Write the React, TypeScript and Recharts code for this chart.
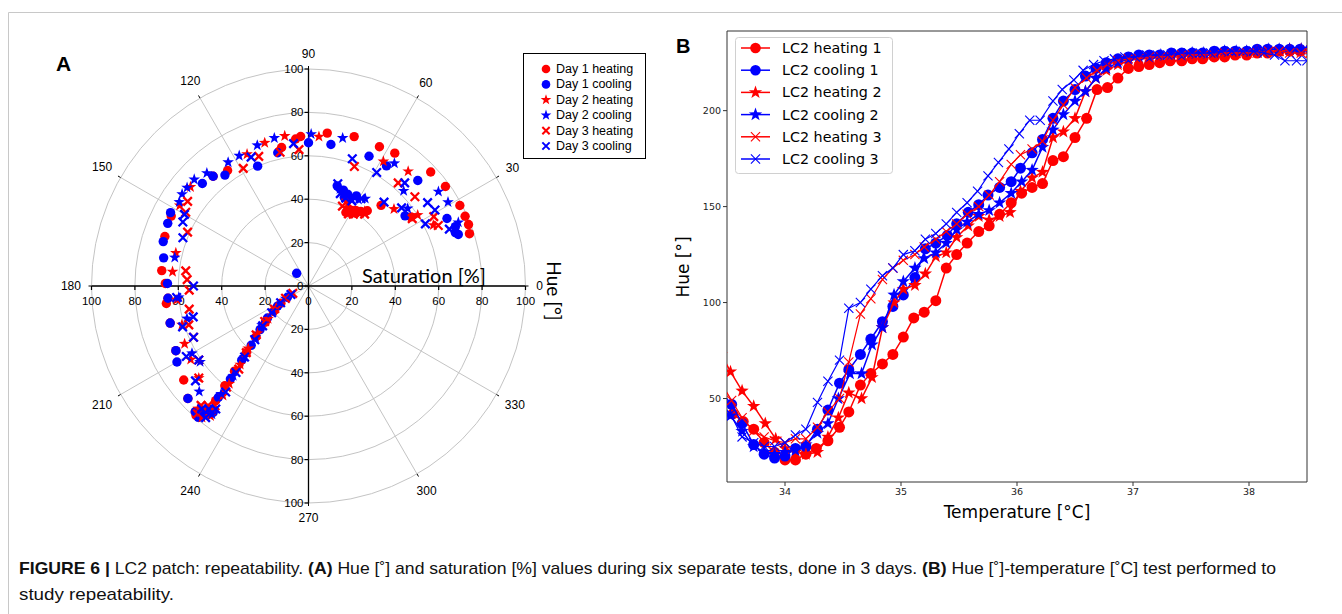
import React from 'react';
import {
  ScatterChart,
  Scatter,
  XAxis,
  YAxis,
  ReferenceLine,
  ReferenceDot,
  RadarChart,
  PolarGrid,
  PolarAngleAxis,
  PolarRadiusAxis,
} from 'recharts';

const RED = '#ff0000';
const BLUE = '#0000ff';

// ---- Panel A: [hue in degrees, saturation in %] ----
const day1Heating = [
  [61, 40], [58, 41], [55, 42], [63, 38], [60, 39], [52, 44], [57, 40], [48, 50], [34, 57],
  [18, 78], [21, 79], [24, 79], [28, 79], [36, 78], [43, 77], [57, 73], [63, 72], [73, 72],
  [83, 71], [93, 69], [95, 68], [101, 65], [125, 65], [131, 67], [153, 71], [161, 70],
  [174, 68], [179, 66], [185, 65], [187, 66], [195, 66], [206, 68], [217, 72], [223, 76],
  [228, 78], [229, 77], [230, 75], [231, 76], [232, 74], [229, 79], [231, 68], [230, 60],
  [229, 52], [227, 42], [224, 34], [220, 26], [216, 20], [212, 15],
];
const day1Cooling = [
  [133, 8], [74, 48], [70, 47], [67, 46], [62, 47], [68, 44], [36, 55], [20, 72], [19, 73],
  [22, 73], [26, 71], [44, 70], [57, 66], [65, 66], [81, 66], [90, 66], [103, 63], [113, 60],
  [127, 64], [131, 67], [136, 68], [152, 72], [156, 71], [163, 70], [169, 68], [179, 65],
  [185, 65], [195, 66], [206, 68], [210, 70], [223, 76], [228, 78], [230, 77], [231, 74],
  [232, 72], [233, 73], [230, 79], [231, 66], [230, 56], [228, 46], [226, 38], [222, 30],
  [218, 24], [213, 17], [208, 11],
];
const day2Heating = [
  [62, 38], [59, 40], [56, 41], [64, 40], [66, 43], [53, 43], [49, 70], [42, 53], [33, 60],
  [26, 64], [59, 67], [86, 69], [99, 70], [107, 69], [115, 67], [140, 71], [148, 70],
  [166, 63], [174, 63], [186, 61], [197, 61], [205, 63], [212, 64], [220, 66], [228, 76],
  [230, 74], [232, 72], [233, 75], [231, 78], [232, 64], [231, 58], [229, 48], [226, 40],
  [223, 32], [219, 24], [214, 18],
];
const day2Cooling = [
  [72, 47], [68, 46], [64, 45], [60, 46], [57, 48], [23, 75], [31, 75], [36, 74], [55, 69],
  [45, 62], [38, 58], [77, 70], [89, 70], [103, 70], [110, 69], [118, 68], [123, 68],
  [132, 70], [137, 72], [141, 72], [144, 72], [147, 71], [168, 63], [185, 60], [195, 58],
  [210, 62], [215, 61], [224, 70], [229, 76], [231, 73], [233, 74], [230, 77], [231, 64],
  [230, 54], [228, 44], [224, 34], [220, 28], [215, 20], [209, 12],
];
const day3Heating = [
  [64, 42], [61, 38], [58, 39], [55, 41], [52, 42], [67, 40], [69, 59], [49, 63], [40, 64],
  [29, 66], [33, 57], [25, 66], [94, 63], [102, 63], [111, 64], [119, 62], [145, 68],
  [149, 66], [156, 61], [173, 57], [177, 56], [182, 55], [191, 56], [198, 58], [204, 58],
  [214, 61], [220, 66], [228, 74], [230, 72], [232, 70], [229, 78], [231, 60], [230, 50],
  [227, 42], [223, 33], [219, 26], [214, 19], [208, 12], [205, 8],
];
const day3Cooling = [
  [71, 45], [67, 44], [63, 44], [59, 47], [74, 49], [71, 62], [59, 61], [47, 65], [35, 67],
  [31, 68], [48, 52], [40, 56], [28, 61], [22, 70], [114, 65], [96, 66], [150, 66],
  [153, 65], [159, 62], [180, 53], [185, 61], [195, 55], [198, 61], [204, 58], [210, 65],
  [214, 61], [220, 68], [229, 75], [231, 73], [233, 71], [232, 77], [232, 62], [230, 52],
  [228, 44], [225, 35], [221, 28], [216, 21], [211, 15], [206, 9],
];

const angleTicks = [0, 30, 60, 90, 120, 150, 180, 210, 240, 270, 300, 330];
const radiusTicks = [20, 40, 60, 80, 100];
const crossTicks = [-100, -80, -60, -40, -20, 0, 20, 40, 60, 80, 100];

// ---- Panel B: [temperature in °C, hue in °] ----
const heating1 = [
  [33.55, 42], [33.64, 38], [33.73, 34], [33.82, 27], [33.91, 22], [34.0, 18], [34.09, 18],
  [34.18, 21], [34.27, 24], [34.37, 28], [34.47, 35], [34.55, 43], [34.65, 57], [34.74, 63],
  [34.84, 68], [34.93, 73], [35.02, 82], [35.11, 92], [35.2, 95], [35.3, 101], [35.39, 118],
  [35.48, 125], [35.57, 131], [35.67, 137], [35.76, 140], [35.85, 146], [35.95, 152],
  [36.04, 157], [36.13, 160], [36.22, 162], [36.31, 174], [36.4, 176], [36.5, 186],
  [36.6, 196], [36.69, 211], [36.78, 212], [36.87, 217], [36.96, 222], [37.05, 223],
  [37.14, 224], [37.23, 225], [37.32, 226], [37.42, 226], [37.51, 227], [37.6, 227],
  [37.7, 228], [37.79, 228], [37.88, 229], [37.98, 229], [38.07, 230], [38.16, 230],
  [38.26, 231], [38.35, 231], [38.44, 231], [38.53, 232],
];
const cooling1 = [
  [33.45, 53], [33.54, 47], [33.63, 37], [33.73, 26], [33.82, 21], [33.91, 19], [34.0, 20],
  [34.09, 24], [34.18, 25], [34.28, 34], [34.37, 44], [34.47, 58], [34.55, 65], [34.65, 73],
  [34.74, 81], [34.84, 90], [34.93, 98], [35.02, 104], [35.12, 113], [35.21, 128], [35.3, 131],
  [35.4, 135], [35.48, 141], [35.58, 147], [35.67, 151], [35.75, 156], [35.85, 160],
  [35.95, 163], [36.03, 170], [36.13, 178], [36.22, 185], [36.31, 196], [36.4, 205],
  [36.5, 211], [36.59, 218], [36.68, 222], [36.77, 225], [36.87, 227], [36.96, 228],
  [37.05, 229], [37.14, 229], [37.23, 229], [37.33, 230], [37.42, 230], [37.51, 230],
  [37.6, 230], [37.7, 231], [37.79, 231], [37.88, 231], [37.98, 231], [38.07, 232],
  [38.16, 232], [38.26, 232], [38.35, 232], [38.44, 232], [38.53, 232],
];
const heating2 = [
  [33.45, 73], [33.53, 64], [33.63, 54], [33.73, 46], [33.83, 37], [33.92, 29], [34.0, 24],
  [34.09, 22], [34.18, 21], [34.28, 22], [34.37, 30], [34.46, 40], [34.55, 53], [34.66, 50],
  [34.75, 61], [34.84, 87], [34.94, 100], [35.02, 107], [35.12, 109], [35.21, 115],
  [35.3, 124], [35.39, 126], [35.48, 134], [35.58, 140], [35.67, 145], [35.76, 143],
  [35.85, 145], [35.94, 147], [36.03, 158], [36.13, 165], [36.22, 168], [36.31, 186],
  [36.4, 189], [36.5, 196], [36.59, 210], [36.68, 217], [36.77, 221], [36.87, 224],
  [36.96, 226], [37.05, 227], [37.14, 227], [37.24, 228], [37.33, 228], [37.42, 228],
  [37.51, 229], [37.61, 229], [37.7, 229], [37.79, 230], [37.89, 230], [37.98, 230],
  [38.07, 231], [38.17, 231], [38.26, 231], [38.35, 232], [38.45, 232], [38.53, 231],
];
const cooling2 = [
  [33.45, 45], [33.53, 41], [33.63, 33], [33.73, 25], [33.82, 22], [33.91, 21], [34.0, 22],
  [34.09, 23], [34.18, 26], [34.28, 32], [34.37, 37], [34.46, 50], [34.56, 63], [34.66, 63],
  [34.75, 78], [34.84, 87], [34.94, 104], [35.02, 111], [35.12, 118], [35.2, 123], [35.3, 126],
  [35.39, 131], [35.48, 138], [35.57, 142], [35.67, 146], [35.76, 148], [35.85, 152],
  [35.95, 157], [36.04, 163], [36.13, 169], [36.22, 181], [36.31, 190], [36.4, 198],
  [36.5, 205], [36.59, 210], [36.68, 217], [36.77, 222], [36.87, 225], [36.96, 227],
  [37.05, 228], [37.14, 228], [37.24, 229], [37.33, 229], [37.42, 229], [37.51, 230],
  [37.61, 230], [37.7, 230], [37.79, 231], [37.89, 231], [37.98, 231], [38.07, 231],
  [38.17, 232], [38.26, 232], [38.35, 232], [38.45, 232], [38.53, 232],
];
const heating3 = [
  [33.45, 58], [33.54, 49], [33.63, 40], [33.73, 33], [33.82, 30], [33.91, 28], [34.0, 27],
  [34.09, 29], [34.18, 29], [34.28, 35], [34.37, 43], [34.47, 50], [34.55, 69], [34.65, 94],
  [34.74, 102], [34.84, 112], [34.93, 118], [35.02, 122], [35.12, 125], [35.2, 129],
  [35.3, 133], [35.39, 137], [35.48, 141], [35.57, 146], [35.67, 150], [35.76, 156],
  [35.85, 163], [35.95, 172], [36.03, 177], [36.13, 180], [36.22, 184], [36.31, 195],
  [36.4, 203], [36.5, 212], [36.6, 217], [36.69, 221], [36.78, 224], [36.87, 226],
  [36.96, 227], [37.05, 227], [37.14, 228], [37.24, 228], [37.33, 228], [37.42, 229],
  [37.51, 229], [37.61, 229], [37.7, 229], [37.79, 230], [37.89, 230], [37.98, 230],
  [38.07, 230], [38.17, 231], [38.26, 231], [38.35, 230], [38.45, 230], [38.53, 230],
];
const cooling3 = [
  [33.45, 46], [33.53, 42], [33.63, 30], [33.73, 27], [33.82, 25], [33.91, 25], [34.0, 27],
  [34.09, 31], [34.18, 34], [34.28, 48], [34.37, 59], [34.47, 70], [34.55, 97], [34.65, 100],
  [34.74, 107], [34.84, 114], [34.93, 118], [35.02, 125], [35.12, 127], [35.21, 133],
  [35.3, 136], [35.39, 141], [35.48, 147], [35.57, 152], [35.66, 158], [35.75, 166],
  [35.84, 173], [35.93, 180], [36.02, 188], [36.11, 195], [36.2, 195], [36.31, 205],
  [36.39, 211], [36.49, 216], [36.57, 221], [36.66, 224], [36.75, 226], [36.84, 227],
  [36.93, 228], [37.02, 228], [37.12, 229], [37.21, 229], [37.3, 229], [37.39, 230],
  [37.48, 230], [37.58, 230], [37.67, 230], [37.76, 231], [37.85, 231], [37.95, 231],
  [38.04, 231], [38.13, 230], [38.22, 229], [38.31, 226], [38.41, 226], [38.5, 226],
];

const tempTicks = [34, 35, 36, 37, 38];
const hueTicks = [50, 100, 150, 200];

const polarSeries = [
  { name: 'Day 1 heating', data: day1Heating, color: RED, kind: 'circle' },
  { name: 'Day 1 cooling', data: day1Cooling, color: BLUE, kind: 'circle' },
  { name: 'Day 2 heating', data: day2Heating, color: RED, kind: 'star' },
  { name: 'Day 2 cooling', data: day2Cooling, color: BLUE, kind: 'star' },
  { name: 'Day 3 heating', data: day3Heating, color: RED, kind: 'x' },
  { name: 'Day 3 cooling', data: day3Cooling, color: BLUE, kind: 'x' },
];

const tempSeries = [
  { name: 'LC2 heating 1', data: heating1, color: RED, kind: 'circle' },
  { name: 'LC2 cooling 1', data: cooling1, color: BLUE, kind: 'circle' },
  { name: 'LC2 heating 2', data: heating2, color: RED, kind: 'star' },
  { name: 'LC2 cooling 2', data: cooling2, color: BLUE, kind: 'star' },
  { name: 'LC2 heating 3', data: heating3, color: RED, kind: 'x' },
  { name: 'LC2 cooling 3', data: cooling3, color: BLUE, kind: 'x' },
];

// polar panel geometry
const CX = 308.5;
const CY = 286;
const R = 217;

const ARIAL = 'Liberation Sans, Arial, sans-serif';
const DEJAVU = 'DejaVu Sans, sans-serif';

const toXY = (pts: number[][]) =>
  pts.map(([h, s]) => ({
    x: s * Math.cos((h * Math.PI) / 180),
    y: s * Math.sin((h * Math.PI) / 180),
  }));

const toTH = (pts: number[][]) => pts.map(([t, h]) => ({ t, h }));

function starPath(cx: number, cy: number, r: number) {
  let d = '';
  for (let i = 0; i < 10; i++) {
    const rr = i % 2 === 0 ? r : r * 0.4;
    const a = -Math.PI / 2 + (i * Math.PI) / 5;
    d += (i === 0 ? 'M' : 'L') + (cx + rr * Math.cos(a)).toFixed(2) + ',' + (cy + rr * Math.sin(a)).toFixed(2);
  }
  return d + 'Z';
}

function Marker({ kind, color, cx, cy, size, xWidth }: any) {
  if (cx == null || cy == null || isNaN(cx) || isNaN(cy)) return null;
  if (kind === 'circle') return <circle cx={cx} cy={cy} r={size} fill={color} />;
  if (kind === 'star') return <path d={starPath(cx, cy, size * 1.3)} fill={color} />;
  const s = size * 0.85;
  return (
    <path
      d={`M${cx - s},${cy - s}L${cx + s},${cy + s}M${cx - s},${cy + s}L${cx + s},${cy - s}`}
      stroke={color}
      strokeWidth={xWidth}
      fill="none"
    />
  );
}

const AngleTick = (props: any) => {
  const { x, y, payload } = props;
  const cx = props.cx ?? CX;
  const cy = props.cy ?? CY;
  const dx = x - cx;
  const dy = y - cy;
  const d = Math.sqrt(dx * dx + dy * dy) || 1;
  const ux = dx / d;
  const uy = dy / d;
  const label = String(payload.value);
  const dist = d + 8 + label.length * 3.2 * Math.abs(ux) + 4 * Math.abs(uy);
  return (
    <text
      x={cx + ux * dist}
      y={cy + uy * dist}
      textAnchor="middle"
      dominantBaseline="central"
      fontSize={12}
      fontFamily={ARIAL}
      fill="#000"
    >
      {label}
    </text>
  );
};

const angleRows = angleTicks.map((a) => ({ angle: a }));

function PolarPanel() {
  return (
    <div style={{ position: 'absolute', left: 0, top: 0, width: 660, height: 540 }}>
      <div style={{ position: 'absolute', left: 0, top: 0 }}>
        <RadarChart
          width={660}
          height={540}
          data={angleRows}
          cx={CX}
          cy={CY}
          outerRadius={R}
          startAngle={30}
          endAngle={390}
          margin={{ top: 0, right: 0, bottom: 0, left: 0 }}
        >
          <PolarGrid
            gridType="circle"
            stroke="#c4c4c4"
            strokeWidth={1}
            cx={CX}
            cy={CY}
            innerRadius={0}
            outerRadius={R}
            polarAngles={angleTicks}
            polarRadius={radiusTicks.map((v) => (v / 100) * R)}
          />
          <PolarAngleAxis
            dataKey="angle"
            axisLine={false}
            tickLine={{ stroke: '#000' }}
            tickSize={3}
            tick={<AngleTick />}
          />
          <PolarRadiusAxis type="number" domain={[0, 100]} tickCount={6} tick={false} axisLine={false} />
        </RadarChart>
      </div>
      <div style={{ position: 'absolute', left: 0, top: 0 }}>
        <ScatterChart
          width={660}
          height={540}
          margin={{ top: CY - R, bottom: 540 - CY - R, left: CX - R, right: 660 - CX - R }}
        >
          <XAxis type="number" dataKey="x" domain={[-100, 100]} hide allowDataOverflow />
          <YAxis type="number" dataKey="y" domain={[-100, 100]} hide allowDataOverflow />
          <ReferenceLine y={0} stroke="#000" strokeWidth={1.3} />
          <ReferenceLine x={0} stroke="#000" strokeWidth={1.3} />
          {crossTicks.map((v) => (
            <ReferenceDot
              key={'h' + v}
              x={v}
              y={0}
              r={0}
              shape={(p: any) => (
                <g>
                  <line x1={p.cx} y1={p.cy} x2={p.cx} y2={p.cy + 4} stroke="#000" strokeWidth={1.2} />
                  <text x={p.cx} y={p.cy + 15} textAnchor="middle" dominantBaseline="central" fontSize={11.5} fontFamily={ARIAL} fill="#000">
                    {Math.abs(v)}
                  </text>
                </g>
              )}
            />
          ))}
          {crossTicks.map((v) => (
            <ReferenceDot
              key={'v' + v}
              x={0}
              y={v}
              r={0}
              shape={(p: any) => (
                <g>
                  <line x1={p.cx} y1={p.cy} x2={p.cx - 4} y2={p.cy} stroke="#000" strokeWidth={1.2} />
                  <text x={p.cx - 5} y={p.cy} textAnchor="end" dominantBaseline="central" fontSize={11.5} fontFamily={ARIAL} fill="#000">
                    {Math.abs(v)}
                  </text>
                </g>
              )}
            />
          ))}
          {polarSeries.map((s) => (
            <Scatter
              key={s.name}
              name={s.name}
              data={toXY(s.data)}
              isAnimationActive={false}
              shape={(p: any) => (
                <Marker kind={s.kind} color={s.color} cx={p.cx} cy={p.cy} size={s.kind === 'x' ? 5 : 4.7} xWidth={2.3} />
              )}
            />
          ))}
        </ScatterChart>
      </div>
    </div>
  );
}

function TempPanel() {
  return (
    <div style={{ position: 'absolute', left: 640, top: 0, width: 700, height: 540 }}>
      <ScatterChart width={700} height={540} margin={{ top: 31, right: 33, left: 27, bottom: 28 }}>
        <XAxis
          type="number"
          dataKey="t"
          domain={[33.5, 38.5]}
          ticks={tempTicks}
          interval={0}
          allowDataOverflow
          height={30}
          axisLine={{ stroke: '#333' }}
          tickLine={{ stroke: '#333' }}
          tickSize={4}
          tick={{ fontSize: 9.5, fill: '#222', fontFamily: DEJAVU }}
        />
        <YAxis
          type="number"
          dataKey="h"
          domain={[6.5, 241.5]}
          ticks={hueTicks}
          interval={0}
          allowDataOverflow
          width={60}
          axisLine={{ stroke: '#333' }}
          tickLine={{ stroke: '#333' }}
          tickSize={4}
          tick={{ fontSize: 9.5, fill: '#222', fontFamily: DEJAVU }}
        />
        <ReferenceLine y={241.5} stroke="#333" />
        <ReferenceLine x={38.5} stroke="#333" />
        {tempSeries.map((s) => (
          <Scatter
            key={s.name}
            name={s.name}
            data={toTH(s.data)}
            isAnimationActive={false}
            line={{ stroke: s.color, strokeWidth: s.kind === 'x' ? 1.2 : 1.5 }}
            lineType="joint"
            shape={(p: any) => (
              <Marker kind={s.kind} color={s.color} cx={p.cx} cy={p.cy} size={s.kind === 'circle' ? 5.5 : 5.4} xWidth={1.1} />
            )}
          />
        ))}
      </ScatterChart>
    </div>
  );
}

function Overlay() {
  return (
    <svg
      width={1342}
      height={614}
      style={{ position: 'absolute', left: 0, top: 0, pointerEvents: 'none' }}
    >
      {/* frame */}
      <line x1={8.5} y1={12.5} x2={1342} y2={12.5} stroke="#c8c8c8" />
      <line x1={8.5} y1={12.5} x2={8.5} y2={614} stroke="#c8c8c8" />

      {/* panel letters */}
      <text x={56} y={71} fontSize={21} fontWeight="bold" fontFamily={ARIAL} fill="#000">A</text>
      <text x={676} y={53} fontSize={20} fontWeight="bold" fontFamily={ARIAL} fill="#000">B</text>

      {/* polar axis titles */}
      <text x={424} y={283} textAnchor="middle" fontSize={20} fontFamily="Lato, Open Sans, sans-serif" fill="#000">
        Saturation [%]
      </text>
      <text
        x={547}
        y={291}
        textAnchor="middle"
        fontSize={19}
        fontFamily="Lato, Open Sans, sans-serif"
        fill="#000"
        transform="rotate(90 547 291)"
      >
        Hue [°]
      </text>

      {/* legend A */}
      <rect x={523.5} y={53.5} width={122} height={105} fill="#fff" stroke="#000" strokeWidth={1} />
      {polarSeries.map((s, i) => (
        <g key={s.name}>
          <Marker kind={s.kind} color={s.color} cx={546} cy={69 + i * 15.4} size={4.3} xWidth={2} />
          <text x={556} y={69 + i * 15.4} dominantBaseline="central" fontSize={12.5} fontFamily={ARIAL} fill="#000">
            {s.name}
          </text>
        </g>
      ))}

      {/* panel B axis titles */}
      <text x={1017} y={518} textAnchor="middle" fontSize={17} fontFamily={DEJAVU} fill="#000">
        Temperature [°C]
      </text>
      <text
        x={689}
        y={267}
        textAnchor="middle"
        fontSize={17}
        fontFamily={DEJAVU}
        fill="#000"
        transform="rotate(-90 689 267)"
      >
        Hue [°]
      </text>

      {/* legend B */}
      <rect x={735.5} y={37.5} width={157} height={136} rx={3} fill="#fff" fillOpacity={0.9} stroke="#d0d0d0" />
      {tempSeries.map((s, i) => (
        <g key={s.name}>
          <line x1={741} y1={48 + i * 22.2} x2={770} y2={48 + i * 22.2} stroke={s.color} strokeWidth={1.5} />
          <Marker kind={s.kind} color={s.color} cx={755.5} cy={48 + i * 22.2} size={s.kind === 'circle' ? 5.3 : 5.4} xWidth={1.1} />
          <text x={782} y={48 + i * 22.2} dominantBaseline="central" fontSize={14.3} fontFamily={DEJAVU} fill="#000">
            {s.name}
          </text>
        </g>
      ))}

      {/* caption */}
      <text x={19} y={574} fontSize={17} fontFamily={ARIAL} fill="#111" textLength={1257} lengthAdjust="spacingAndGlyphs">
        <tspan fontWeight="bold">{'FIGURE 6 | '}</tspan>
        <tspan>{'LC2 patch: repeatability. '}</tspan>
        <tspan fontWeight="bold">{'(A)'}</tspan>
        <tspan>{' Hue [˚] and saturation [%] values during six separate tests, done in 3 days. '}</tspan>
        <tspan fontWeight="bold">{'(B)'}</tspan>
        <tspan>{' Hue [˚]-temperature [˚C] test performed to'}</tspan>
      </text>
      <text x={19} y={600} fontSize={17} fontFamily={ARIAL} fill="#111" textLength={155} lengthAdjust="spacingAndGlyphs">
        study repeatability.
      </text>
    </svg>
  );
}

export default function App() {
  return (
    <div style={{ position: 'absolute', left: 0, top: 0, width: 1342, height: 614, background: '#fff', overflow: 'hidden' }}>
      <PolarPanel />
      <TempPanel />
      <Overlay />
    </div>
  );
}
